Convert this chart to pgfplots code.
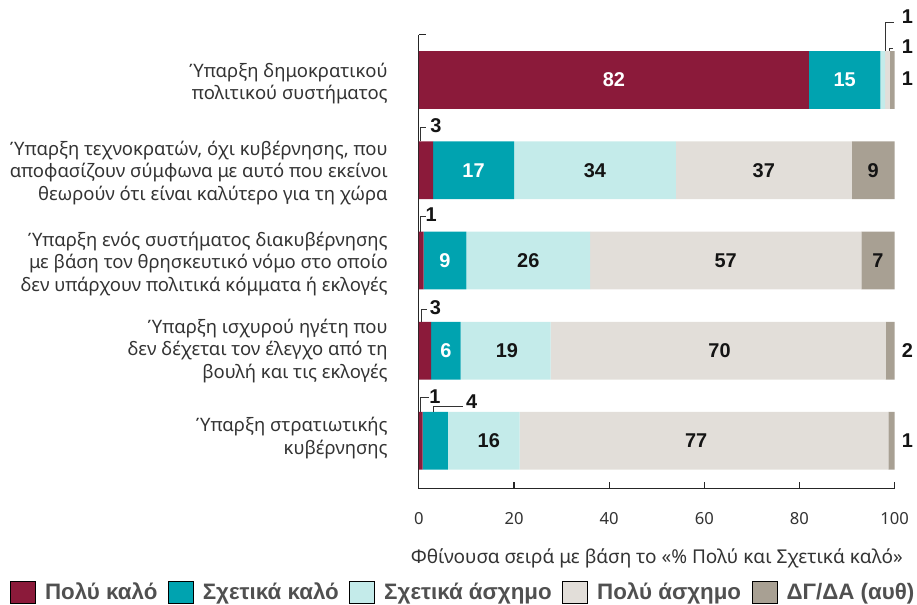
\documentclass[border=0pt]{standalone}
\usepackage{pgfplots}
\pgfplotsset{compat=1.18}
\usepackage{fontspec}
\setmainfont{Noto Sans}
\newfontfamily\boldf{Liberation Sans}
\definecolor{c1}{HTML}{8B1A3A}
\definecolor{c2}{HTML}{00A3B0}
\definecolor{c3}{HTML}{C4EBEA}
\definecolor{c4}{HTML}{E2DED9}
\definecolor{c5}{HTML}{A8A093}
\definecolor{txtc}{HTML}{333333}
\definecolor{legtxt}{HTML}{505050}
\tikzset{
  catlab/.style={anchor=east, align=right, text=txtc, font=\fontsize{13.9}{16.9}\selectfont, inner sep=0pt, xshift=-23.25pt},
  vallab/.style={font=\boldf\bfseries\fontsize{15}{17}\selectfont, inner sep=0pt, text=black!92},
  leader/.style={line width=0.6pt, draw=black!80},
}
\begin{document}
\begin{tikzpicture}
\path (0pt,0pt) rectangle (687.75pt,-453.75pt);
\begin{axis}[
  set layers,
  every axis plot/.append style={on layer=pre main},
  at={(315pt,-367.5pt)}, anchor=south west,
  scale only axis, width=357.75pt, height=341.25pt,
  xbar stacked, bar width=0.64, y dir=reverse,
  xmin=0, xmax=100, ymin=-0.5, ymax=4.53,
  clip=false,
  axis lines*=left,
  axis line style={line width=0.9pt, draw=black!85},
  xtick={0,20,40,60,80,100},
  ytick={-0.5}, yticklabels={{}},
  tick align=inside, major tick length=5pt,
  tick style={line width=0.8pt, draw=black!85},
  /pgf/number format/assume math mode=true,
  xticklabel style={font=\fontsize{12.5}{15}\selectfont, text=txtc, yshift=-14.5pt},
  xlabel={Φθίνουσα σειρά με βάση το «\% Πολύ και Σχετικά καλό»},
  xlabel style={font=\fontsize{14.3}{16}\selectfont, text=txtc, yshift=-11pt},
  legend columns=5,
  legend style={at={(-0.8595,-0.229)}, anchor=west, draw=none, fill=none,
    inner sep=0pt, font=\boldf\bfseries\fontsize{16.8}{19}\selectfont, text=legtxt,
    /tikz/every odd column/.append style={column sep=5pt},
    /tikz/every even column/.append style={column sep=6pt}},
  area legend,
  legend image post style={xscale=1.1, yscale=2.9},
]
\addplot[fill=c1, draw=none] coordinates {(82,0) (3,1) (1,2) (2.6,3) (0.8,4)};
\addplot[fill=c2, draw=none] coordinates {(15,0) (17,1) (9,2) (6.2,3) (5.3,4)};
\addplot[fill=c3, draw=none] coordinates {(1,0) (34,1) (26,2) (18.9,3) (15.1,4)};
\addplot[fill=c4, draw=none] coordinates {(1,0) (37,1) (57,2) (70.4,3) (77.5,4)};
\addplot[fill=c5, draw=none] coordinates {(1,0) (9,1) (7,2) (1.9,3) (1.3,4)};
\legend{Πολύ καλό, Σχετικά καλό, Σχετικά άσχημο, Πολύ άσχημο, ΔΓ/ΔΑ (αυθ)}

\node[catlab] at (axis cs:0,0.04) {Ύπαρξη δημοκρατικού\\πολιτικού συστήματος};
\node[catlab] at (axis cs:0,1.03) {Ύπαρξη τεχνοκρατών, όχι κυβέρνησης, που\\αποφασίζουν σύμφωνα με αυτό που εκείνοι\\θεωρούν ότι είναι καλύτερο για τη χώρα};
\node[catlab] at (axis cs:0,2.04) {Ύπαρξη ενός συστήματος διακυβέρνησης\\με βάση τον θρησκευτικό νόμο στο οποίο\\δεν υπάρχουν πολιτικά κόμματα ή εκλογές};
\node[catlab] at (axis cs:0,3.0) {Ύπαρξη ισχυρού ηγέτη που\\δεν δέχεται τον έλεγχο από τη\\βουλή και τις εκλογές};
\node[catlab] at (axis cs:0,3.97) {Ύπαρξη στρατιωτικής\\κυβέρνησης};

\node[vallab, text=white] at (axis cs:41,0) {82};
\node[vallab, text=white] at (axis cs:89.5,0) {15};
\node[vallab, text=white] at (axis cs:11.5,1) {17};
\node[vallab] at (axis cs:37,1) {34};
\node[vallab] at (axis cs:72.5,1) {37};
\node[vallab] at (axis cs:95.5,1) {9};
\node[vallab, text=white] at (axis cs:5.5,2) {9};
\node[vallab] at (axis cs:23,2) {26};
\node[vallab] at (axis cs:64.5,2) {57};
\node[vallab] at (axis cs:96.5,2) {7};
\node[vallab, text=white] at (axis cs:5.7,3) {6};
\node[vallab] at (axis cs:18.5,3) {19};
\node[vallab] at (axis cs:63.2,3) {70};
\node[vallab] at (axis cs:14.7,4) {16};
\node[vallab] at (axis cs:58.3,4) {77};
\node[vallab] at (axis cs:102.7,-0.70) {1};
\node[vallab] at (axis cs:102.7,-0.365) {1};
\node[vallab] at (axis cs:102.7,-0.02) {1};
\node[vallab] at (axis cs:3.6,0.51) {3};
\node[vallab] at (axis cs:2.6,1.49) {1};
\node[vallab] at (axis cs:3.5,2.52) {3};
\node[vallab] at (axis cs:102.7,3) {2};
\node[vallab] at (axis cs:3.4,3.51) {1};
\node[vallab] at (axis cs:11.1,3.57) {4};
\node[vallab] at (axis cs:102.7,4) {1};

\draw[leader] (axis cs:98.1,-0.32) -- (axis cs:98.1,-0.64) -- (axis cs:99.8,-0.64);
\draw[leader] (axis cs:98.9,-0.32) -- (axis cs:98.9,-0.355) -- (axis cs:99.6,-0.355);
\draw[leader] (axis cs:0.4,0.68) -- (axis cs:0.4,0.53) -- (axis cs:1.4,0.53);
\draw[leader] (axis cs:0.4,1.68) -- (axis cs:0.4,1.51) -- (axis cs:1.4,1.51);
\draw[leader] (axis cs:0.5,2.68) -- (axis cs:0.5,2.54) -- (axis cs:1.7,2.54);
\draw[leader] (axis cs:0.3,3.68) -- (axis cs:0.3,3.52) -- (axis cs:2.1,3.52);
\draw[leader] (axis cs:3.1,3.68) -- (axis cs:3.1,3.62) -- (axis cs:9.2,3.62);
\end{axis}
\end{tikzpicture}
\end{document}
